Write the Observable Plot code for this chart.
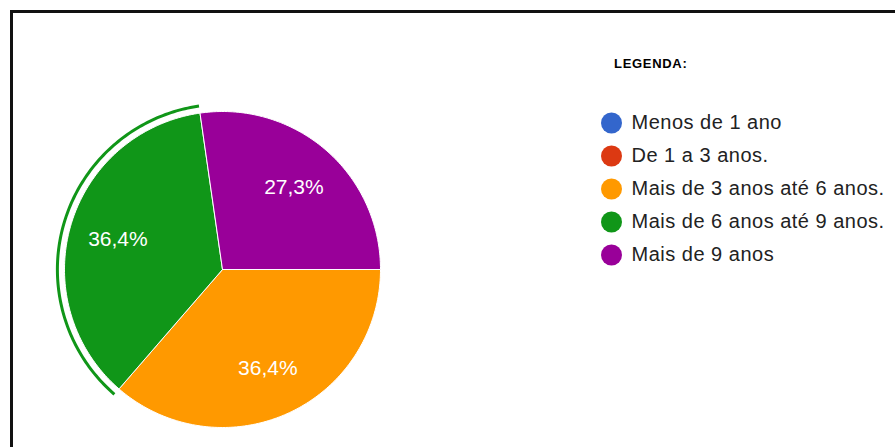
<!DOCTYPE html>
<html>
<head>
<meta charset="utf-8">
<script src="https://cdn.jsdelivr.net/npm/d3@7"></script>
<script src="https://cdn.jsdelivr.net/npm/@observablehq/plot@0.6"></script>
<style>
  html, body { margin: 0; padding: 0; background: #fff; overflow: hidden; }
  #wrap { position: relative; width: 895px; height: 447px; font-family: "Liberation Sans", Arial, sans-serif; }
  #frame { position: absolute; left: 10px; top: 10px; width: 1000px; height: 1000px; border-left: 3px solid #111; border-top: 3px solid #111; box-sizing: border-box; }
  #pie, #legend { position: absolute; top: 0; }
  #pie { left: 0; }
  #legend { left: 590px; }
  #legtitle { position: absolute; left: 614px; top: 56px; font: bold 13px "Liberation Sans", Arial, sans-serif; letter-spacing: 0.7px; color: #000; }
  #legend text { letter-spacing: 0.5px; }
</style>
</head>
<body>
<div id="wrap">
  <div id="frame"></div>
  <div id="pie"></div>
  <div id="legtitle">LEGENDA:</div>
  <div id="legend"></div>
</div>
<script>
const categories = ["Menos de 1 ano", "De 1 a 3 anos.", "Mais de 3 anos até 6 anos.", "Mais de 6 anos até 9 anos.", "Mais de 9 anos"];
const values = [0, 0, 4, 4, 3];
const colors = ["#3366cc", "#dc3912", "#ff9900", "#109618", "#990099"];
const selected = "Mais de 6 anos até 9 anos.";

const total = d3.sum(values);
const arcs = d3.pie().sort(null).startAngle(Math.PI / 2).endAngle(Math.PI / 2 + 2 * Math.PI)(values);

// polygon vertices of each slice on the unit circle
const slicePts = [];
const labels = [];
const ring = [];
arcs.forEach((a, i) => {
  if (values[i] === 0) return;
  const cat = categories[i];
  const n = Math.max(2, Math.ceil((a.endAngle - a.startAngle) / (Math.PI / 180)));
  slicePts.push({cat, x: 0, y: 0});
  for (let k = 0; k <= n; k++) {
    const t = a.startAngle + (a.endAngle - a.startAngle) * k / n;
    slicePts.push({cat, x: Math.sin(t), y: Math.cos(t)});
    if (cat === selected) ring.push({x: 1.045 * Math.sin(t), y: 1.045 * Math.cos(t)});
  }
  slicePts.push({cat, x: 0, y: 0});
  const mid = (a.startAngle + a.endAngle) / 2;
  labels.push({
    x: 0.69 * Math.sin(mid), y: 0.69 * Math.cos(mid),
    text: (values[i] / total * 100).toFixed(1).replace(".", ",") + "%"
  });
});

const colorScale = {domain: categories, range: colors};

const pie = Plot.plot({
  width: 895, height: 447,
  marginLeft: 64, marginRight: 515, marginTop: 111, marginBottom: 20,
  x: {domain: [-1, 1], axis: null},
  y: {domain: [-1, 1], axis: null},
  color: colorScale,
  style: {background: "transparent", overflow: "visible"},
  marks: [
    Plot.line(slicePts, {x: "x", y: "y", z: "cat", fill: "cat", stroke: "white", strokeWidth: 1, curve: "linear"}),
    Plot.line(ring, {x: "x", y: "y", stroke: colors[categories.indexOf(selected)], strokeWidth: 3, strokeLinecap: "butt"}),
    Plot.text(labels, {x: "x", y: "y", text: "text", fill: "white", fontSize: 21, fontFamily: "'Liberation Sans', Arial, sans-serif"})
  ]
});
document.getElementById("pie").appendChild(pie);

const legend = Plot.plot({
  width: 305, height: 300,
  marginLeft: 0, marginRight: 0, marginTop: 104, marginBottom: 28,
  y: {domain: categories, type: "band", padding: 0, axis: null},
  color: colorScale,
  style: {background: "transparent", overflow: "visible"},
  marks: [
    Plot.dot(categories, {y: d => d, fill: d => d, r: 10.5, frameAnchor: "left", dx: 21}),
    Plot.text(categories, {y: d => d, text: d => d, frameAnchor: "left", dx: 41, textAnchor: "start", fontSize: 20, fill: "#222", fontFamily: "'Liberation Sans', Arial, sans-serif"})
  ]
});
document.getElementById("legend").appendChild(legend);
</script>
</body>
</html>
